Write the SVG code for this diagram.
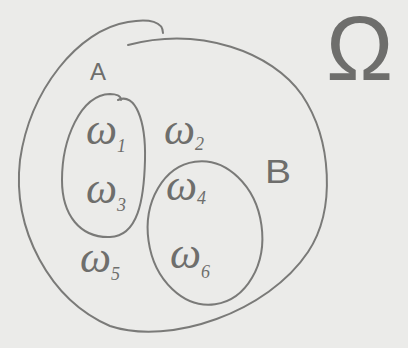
<svg xmlns="http://www.w3.org/2000/svg" width="408" height="348" viewBox="0 0 408 348">
<style>
.ln{fill:none;stroke:#7a7a78;stroke-width:2;stroke-linecap:round;stroke-linejoin:round}
.w{font-family:"Liberation Serif","DejaVu Serif",serif;font-style:italic;fill:#6e6e6c;font-size:44px}
.s{font-size:18px}
.lab{font-family:"Liberation Sans","DejaVu Sans",sans-serif;fill:#6e6e6c}
</style>
<rect width="408" height="348" fill="#ebebe9"/>
<g id="omega">
<path class="ln" d="M163,33 C163,22 150,18 128,22 C78,30 30,90 20,160 C12,230 50,300 110,326 C170,346 268,312 308,252 C336,210 332,140 302,95 C272,52 200,26 128,45"/>
<text class="lab" x="326" y="80" font-size="90" fill="#7a7a78">Ω</text>
</g>
<g id="setA">
<path class="ln" d="M118,100 C135,92 146,120 145,160 C144,200 138,236 110,237 C80,238 62,215 62,180 C62,140 80,95 110,94 C116,94 121,96 121,100"/>
<text class="lab" x="90" y="80" font-size="24">A</text>
</g>
<g id="setB">
<ellipse class="ln" cx="205" cy="233" rx="57" ry="72" transform="rotate(-8 205 233)"/>
<text class="lab" x="265" y="183" font-size="34" textLength="26" lengthAdjust="spacingAndGlyphs">B</text>
</g>
<g id="elements">
<text class="w" x="86" y="144">ω<tspan class="s" dy="8">1</tspan></text>
<text class="w" x="164" y="144">ω<tspan class="s" dy="6">2</tspan></text>
<text class="w" x="86" y="203">ω<tspan class="s" dy="8">3</tspan></text>
<text class="w" x="166" y="200">ω<tspan class="s" dy="4">4</tspan></text>
<text class="w" x="80" y="272">ω<tspan class="s" dy="8">5</tspan></text>
<text class="w" x="170" y="268">ω<tspan class="s" dy="10">6</tspan></text>
</g>
</svg>
